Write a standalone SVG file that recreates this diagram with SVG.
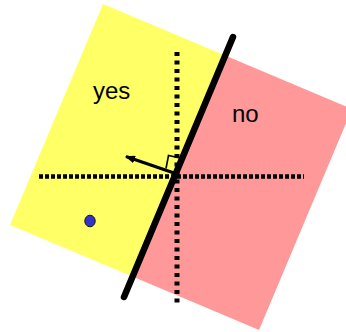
<svg xmlns="http://www.w3.org/2000/svg" width="346" height="332" viewBox="0 0 346 332">
<style>
.lbl{font-family:"Liberation Sans",Arial,sans-serif;font-size:24px;fill:#000}
.axis{stroke:#000;fill:none}
</style>
<defs>
<marker id="ah" markerWidth="10" markerHeight="8" refX="9" refY="4" orient="auto" markerUnits="userSpaceOnUse">
<path d="M0,0 L10,4 L0,8 Z" fill="#000"/>
</marker>
</defs>
<rect width="346" height="332" fill="#fff"/>
<g id="regions">
<polygon id="no-region" points="225.2,55.5 352,109 259,330 132.5,276.6" fill="#ff9999"/>
<polygon id="yes-region" points="103,4 225.2,55.5 132.5,276.6 10,225" fill="#ffff66"/>
</g>
<g id="axes">
<line class="axis" x1="39" y1="176.5" x2="304" y2="176.5" stroke-width="4.3" stroke-dasharray="4 2"/>
<line class="axis" x1="177" y1="52" x2="177" y2="303" stroke-width="5" stroke-dasharray="4 4.5"/>
</g>
<g id="connectors">
<line id="boundary" x1="233" y1="37" x2="124" y2="297" stroke="#000" stroke-width="6.5" stroke-linecap="round"/>
<line id="normal" x1="174" y1="173" x2="126" y2="156.5" stroke="#000" stroke-width="3" marker-end="url(#ah)"/>
<polyline id="right-angle" points="166,168.5 168.5,155.5 180,158" fill="none" stroke="#000" stroke-width="1.6"/>
</g>
<g id="point"><ellipse cx="90" cy="221" rx="5.2" ry="5.8" fill="#3333cc" stroke="#111" stroke-width="1"/></g>
<g id="label-yes"><text class="lbl" x="93" y="99">yes</text></g>
<g id="label-no"><text class="lbl" x="232" y="122">no</text></g>
</svg>
